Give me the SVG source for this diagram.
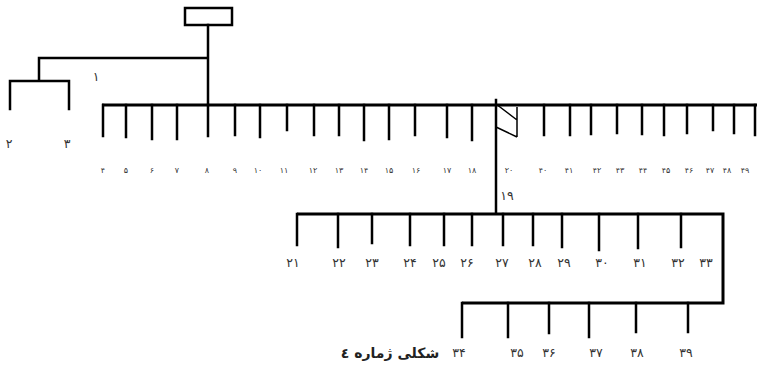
<svg xmlns="http://www.w3.org/2000/svg" width="757" height="369" viewBox="0 0 757 369">
<style>
.ln{stroke:#000;stroke-width:2.5;fill:none;stroke-linecap:square}
.bar{stroke:#000;stroke-width:3;fill:none}
.th{stroke:#000;stroke-width:1.5;fill:none}
text{font-family:"DejaVu Sans","Noto Sans",sans-serif;fill:#333;text-anchor:middle}
.s{font-size:8px}
.m{font-size:12.5px}
.c{font-size:14px;font-weight:bold;fill:#222}
</style>
<rect width="757" height="369" fill="#fff"/>
<g id="root"><rect x="185" y="8" width="47" height="17" fill="#fff" stroke="#000" stroke-width="2.5"/></g>
<g id="connectors">
<path class="ln" d="M208 25V105M208 58H39V81M10 81H69M10 81V109M69 81V109"/>
<path class="bar" d="M102 105H757"/>
<path class="ln" d="M103 105V136M126 105V137M152 105V139M177 105V139M208 105V136M235 105V135M260 105V137M287 105V130M314 105V135M339 105V135M364 105V140M389 105V139M415 105V135M447 105V137M472 105V140M544 105V135M570 105V135M591 105V134M617 105V133M642 105V134M664 105V135M687 105V133M713 105V130M734 105V133M755 105V135"/>
<path class="ln" d="M496 100V213"/>
<path class="th" d="M496 104L517 120M496 127L517 137M517 107V137"/>
<path class="bar" d="M297 214H723V303H462"/>
<path class="ln" d="M297 214V245M338 214V247M372 214V243M410 214V245M444 214V245M472 214V245M503 214V245M533 214V245M562 214V247M599 214V250M638 214V248M681 214V247"/>
<path class="ln" d="M462 303V337M508 303V337M549 303V333M589 303V337M636 303V332M688 303V332"/>
</g>
<g id="labels">
<text class="m" x="96" y="81">۱</text>
<text class="m" x="9" y="148">۲</text>
<text class="m" x="67" y="148">۳</text>
<g class="s">
<text class="s" x="103" y="173">۴</text><text class="s" x="126" y="173">۵</text><text class="s" x="152" y="173">۶</text><text class="s" x="177" y="173">۷</text><text class="s" x="207" y="173">۸</text><text class="s" x="235" y="173">۹</text><text class="s" x="258" y="173">۱۰</text><text class="s" x="284" y="173">۱۱</text><text class="s" x="313" y="173">۱۲</text><text class="s" x="339" y="173">۱۳</text><text class="s" x="364" y="173">۱۴</text><text class="s" x="389" y="173">۱۵</text><text class="s" x="416" y="173">۱۶</text><text class="s" x="447" y="173">۱۷</text><text class="s" x="472" y="173">۱۸</text><text class="s" x="509" y="173">۲۰</text><text class="s" x="543" y="173">۴۰</text><text class="s" x="569" y="173">۴۱</text><text class="s" x="597" y="173">۴۲</text><text class="s" x="620" y="173">۴۳</text><text class="s" x="643" y="173">۴۴</text><text class="s" x="666" y="173">۴۵</text><text class="s" x="689" y="173">۴۶</text><text class="s" x="710" y="173">۴۷</text><text class="s" x="727" y="173">۴۸</text><text class="s" x="745" y="173">۴۹</text>
</g>
<text class="m" x="507" y="200">۱۹</text>
<text class="m" x="293" y="267">۲۱</text><text class="m" x="339" y="267">۲۲</text><text class="m" x="372" y="267">۲۳</text><text class="m" x="410" y="267">۲۴</text><text class="m" x="439" y="267">۲۵</text><text class="m" x="467" y="267">۲۶</text><text class="m" x="502" y="267">۲۷</text><text class="m" x="535" y="267">۲۸</text><text class="m" x="564" y="267">۲۹</text><text class="m" x="602" y="267">۳۰</text><text class="m" x="640" y="267">۳۱</text><text class="m" x="678" y="267">۳۲</text><text class="m" x="706" y="267">۳۳</text>
<text class="m" x="459" y="357">۳۴</text><text class="m" x="517" y="357">۳۵</text><text class="m" x="549" y="357">۳۶</text><text class="m" x="596" y="357">۳۷</text><text class="m" x="637" y="357">۳۸</text><text class="m" x="686" y="357">۳۹</text>
<text class="c" x="390" y="358">شکلی ژماره ٤</text>
</g>
</svg>
